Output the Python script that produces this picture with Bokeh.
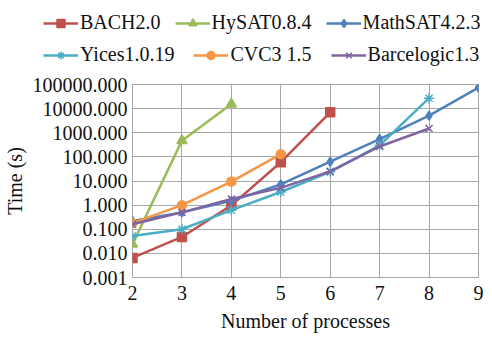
from bokeh.plotting import figure
from bokeh.layouts import column
from bokeh.models import FixedTicker, CustomJSTickFormatter, Legend, LegendItem, Range1d
from bokeh.embed import file_html
from bokeh.resources import INLINE

names = ["BACH2.0", "HySAT0.8.4", "MathSAT4.2.3", "Yices1.0.19", "CVC3 1.5", "Barcelogic1.3"]
colors = ["#C0504D", "#9BBB59", "#4F81BD", "#4BACC6", "#F79646", "#8064A2"]
markers = ["square", "triangle", "diamond", "asterisk", "circle", "x"]

bach_x = [2, 3, 4, 5, 6]
bach_y = [0.0065, 0.048, 0.98, 60, 7000]
hysat_x = [2, 3, 4]
hysat_y = [0.024, 470, 15500]
mathsat_x = [2, 3, 4, 5, 6, 7, 8, 9]
mathsat_y = [0.22, 0.5, 1.5, 7.2, 63, 550, 5100, 75000]
yices_x = [2, 3, 4, 5, 6, 7, 8]
yices_y = [0.052, 0.1, 0.62, 3.5, 24, 300, 27000]
cvc3_x = [2, 3, 4, 5]
cvc3_y = [0.18, 1.0, 9.5, 130]
barce_x = [2, 3, 4, 5, 6, 7, 8]
barce_y = [0.16, 0.5, 1.8, 5.2, 25, 270, 1500]

xs = [bach_x, hysat_x, mathsat_x, yices_x, cvc3_x, barce_x]
ys = [bach_y, hysat_y, mathsat_y, yices_y, cvc3_y, barce_y]

y_ticks = [0.001, 0.01, 0.1, 1, 10, 100, 1000, 10000, 100000]
x_ticks = [2, 3, 4, 5, 6, 7, 8, 9]

FONT = "Liberation Serif"

p = figure(frame_width=346, frame_height=193, y_axis_type="log", output_backend="svg",
           toolbar_location=None, x_range=Range1d(2, 9), y_range=Range1d(0.001, 100000))
p.min_border_left = 129
p.min_border_right = 5
p.min_border_top = 18
p.min_border_bottom = 60
p.background_fill_color = "white"
p.border_fill_color = "white"
p.outline_line_color = "#A6A6A6"
p.outline_line_width = 1

p.xaxis.ticker = FixedTicker(ticks=x_ticks)
p.yaxis.ticker = FixedTicker(ticks=y_ticks, minor_ticks=[])
p.yaxis.formatter = CustomJSTickFormatter(code="return tick.toFixed(3);")
for ax in (p.xaxis[0], p.yaxis[0]):
    ax.axis_line_color = None
    ax.major_tick_line_color = None
    ax.minor_tick_line_color = None
    ax.major_tick_out = 0
    ax.major_tick_in = 0
    ax.major_label_text_font = FONT
    ax.major_label_text_font_size = "20px"
    ax.major_label_text_color = "#111111"
    ax.axis_label_text_font = FONT
    ax.axis_label_text_font_size = "20px"
    ax.axis_label_text_font_style = "normal"
    ax.axis_label_text_color = "#111111"
p.xaxis.axis_label = "Number of processes"
p.yaxis.axis_label = "Time (s)"
p.xaxis.major_label_standoff = 8
p.yaxis.major_label_standoff = 5
p.xaxis.axis_label_standoff = 7
p.yaxis.axis_label_standoff = 4
p.xgrid.grid_line_color = "#A6A6A6"
p.ygrid.grid_line_color = "#A6A6A6"

for x, y, c, m in zip(xs, ys, colors, markers):
    p.line(x, y, line_color=c, line_width=2.5)
    sz = 10 if m in ("triangle", "asterisk", "x") else 9
    p.scatter(x, y, marker=m, size=sz, fill_color=c, line_color=c, line_width=1.5)

# legend strip above the chart (series drawn off-view, only their legend samples show)
lg = figure(frame_width=480, frame_height=66, output_backend="svg", toolbar_location=None,
            x_range=Range1d(0, 1), y_range=Range1d(0, 1), min_border=0)
lg.axis.visible = False
lg.grid.visible = False
lg.outline_line_color = None
lg.background_fill_color = "white"
lg.border_fill_color = "white"
lrends = []
for x, y, c, m in zip(xs, ys, colors, markers):
    l = lg.line(x, y, line_color=c, line_width=2.5)
    sz = 10 if m in ("triangle", "asterisk", "x") else 9
    s = lg.scatter(x, y, marker=m, size=sz, fill_color=c, line_color=c, line_width=1.5)
    lrends.append([l, s])

rows = [[0, 1, 2], [3, 4, 5]]
spacings = [14, 19]
locs = [(43, 32), (43, 0)]
for r, sp, loc in zip(rows, spacings, locs):
    leg = Legend(items=[LegendItem(label=names[i], renderers=lrends[i]) for i in r],
                 location=loc, orientation="horizontal", padding=0, margin=0,
                 spacing=sp, glyph_width=35, glyph_height=20, label_standoff=2,
                 label_text_font=FONT, label_text_font_size="20px",
                 label_text_color="#111111", border_line_color=None,
                 background_fill_alpha=0)
    lg.add_layout(leg, "center")

layout = column(lg, p, spacing=0)
open("out.html", "w").write(file_html(layout, INLINE))
